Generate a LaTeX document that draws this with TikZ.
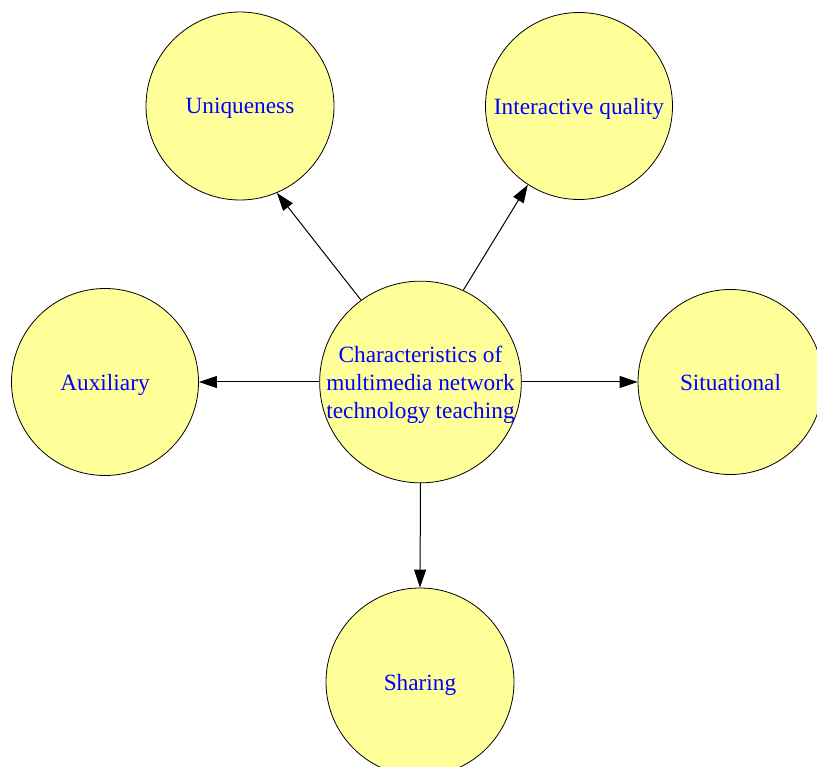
\documentclass[tikz,border=0pt]{standalone}
\usepackage{fontspec}
\setmainfont{Liberation Serif}
\usetikzlibrary{positioning, calc, arrows.meta}

\begin{document}
\begin{tikzpicture}[x=1pt, y=1pt, >={Triangle[length=18pt,width=12pt]},
    topic/.style={circle, draw=black, line width=0.8pt,
        fill={rgb,255:red,255;green,255;blue,153}, inner sep=0pt,
        text=blue, font=\fontsize{23.3}{28}\selectfont, align=center,
        text depth=0pt},
    link/.style={->, line width=1pt, black}]
    % Canvas
    \useasboundingbox (0,0) rectangle (817,-767);

    % Centre
    \node[topic, minimum size=200pt] (hub) at (420.5,-382)
        {Characteristics of\\multimedia network\\technology teaching};

    % Surrounding features
    \node[topic, minimum size=188pt] (uniq) at (240,-106) {Uniqueness};
    \node[topic, minimum size=187pt] (inter) at (579,-106) {Interactive quality};
    \node[topic, minimum size=187pt] (aux) at (105,-382) {Auxiliary};
    \node[topic, minimum size=185pt] (situ) at (730.5,-382) {Situational};
    \node[topic, minimum size=188pt] (share) at (420,-682) {Sharing};

    % Edges
    \draw[link] (hub.126) -- (uniq.293);
    \draw[link] (hub.65) -- (inter.237);
    \draw[link] (hub.180) -- (aux.0);
    \draw[link] (hub.0) -- (situ.180);
    \draw[link] (hub.270) -- (share.90);
\end{tikzpicture}
\end{document}
